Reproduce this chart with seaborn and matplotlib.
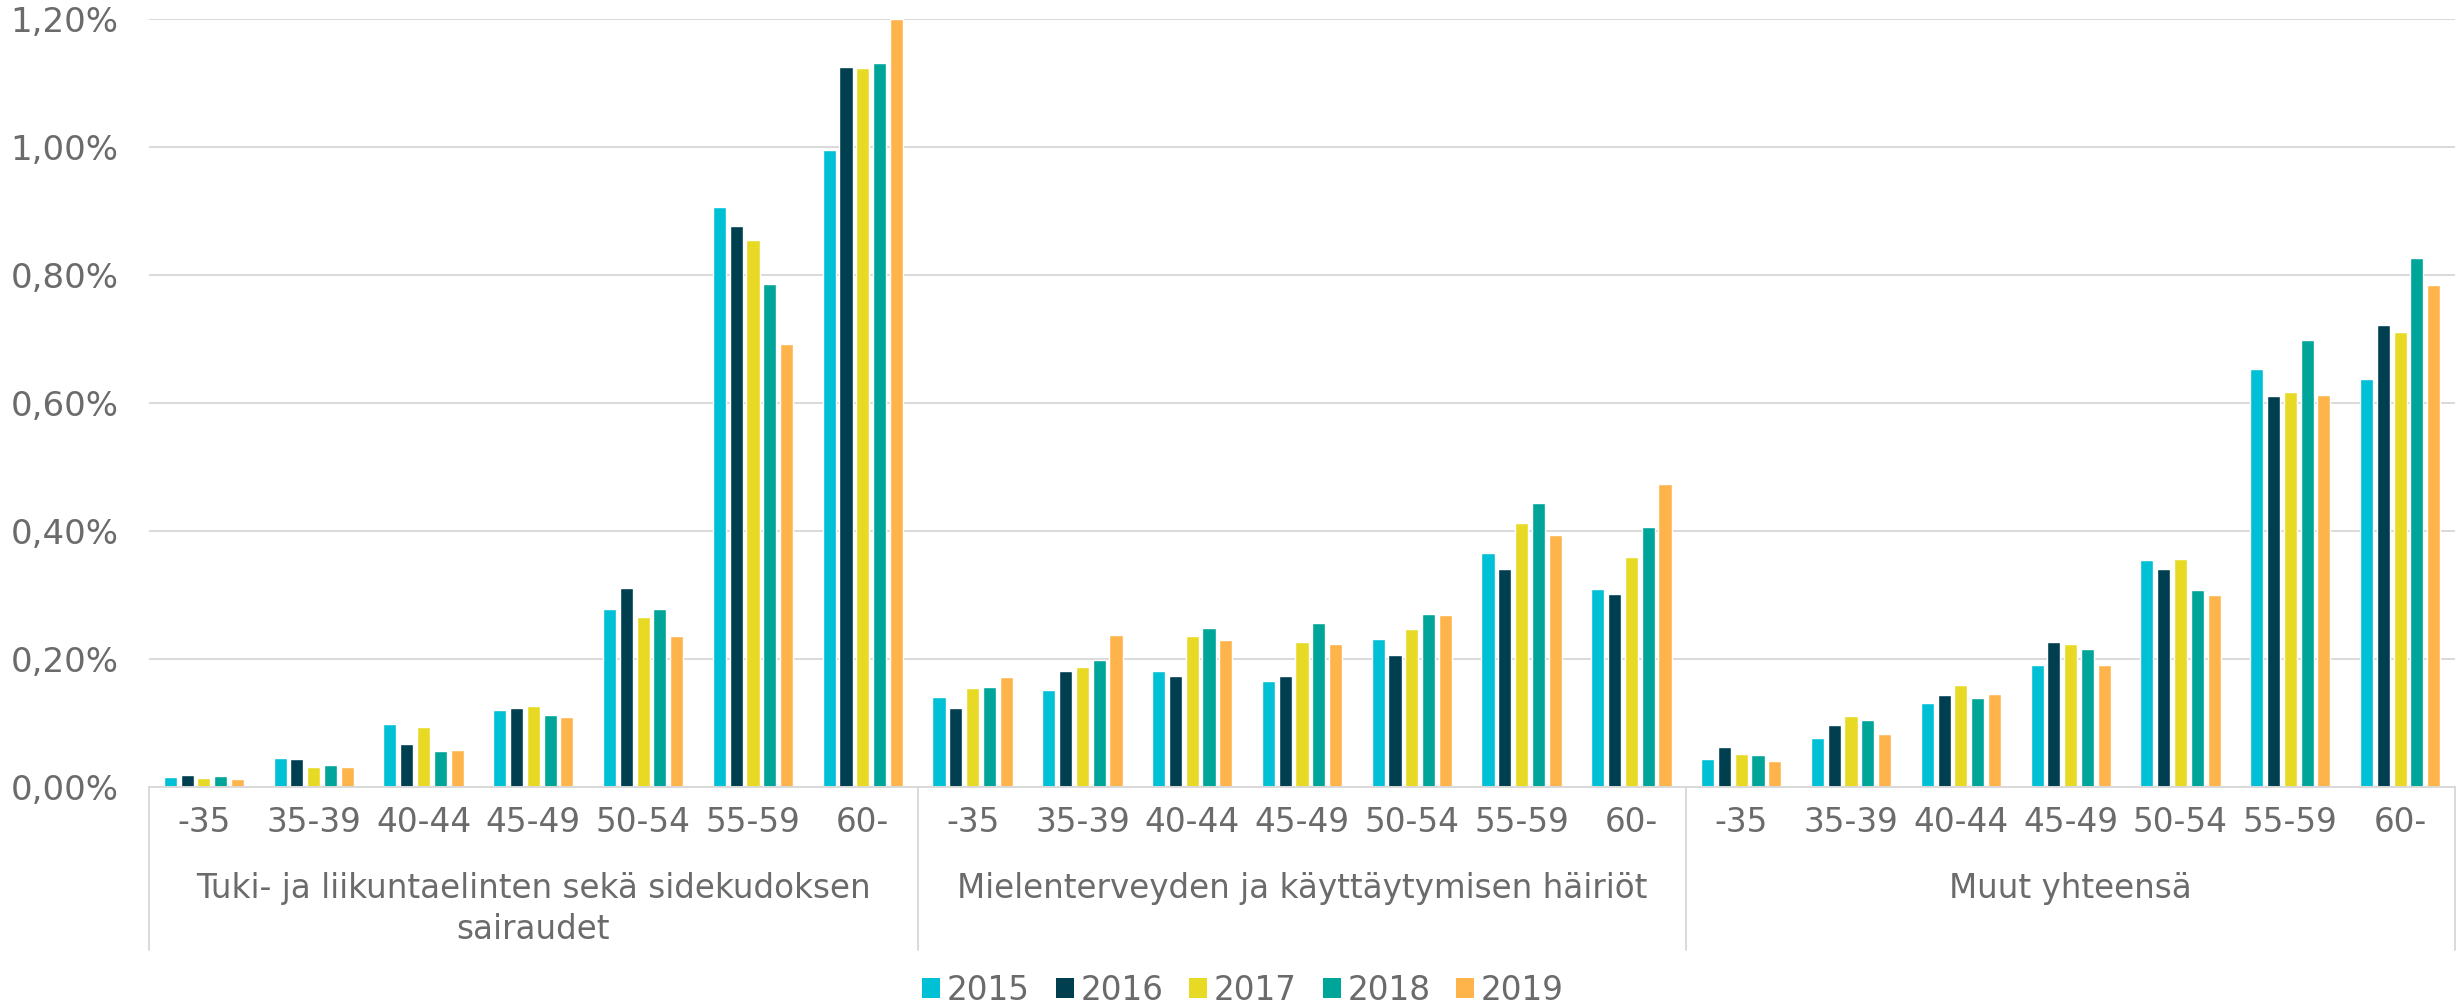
import matplotlib
matplotlib.use("Agg")
import matplotlib.pyplot as plt
import matplotlib.transforms as mtransforms
from matplotlib.ticker import FuncFormatter, MultipleLocator
from matplotlib.patches import Patch
import seaborn as sns
import pandas as pd

groups = ["Tuki- ja liikuntaelinten sekä sidekudoksen\nsairaudet",
          "Mielenterveyden ja käyttäytymisen häiriöt",
          "Muut yhteensä"]
ages = ["-35", "35-39", "40-44", "45-49", "50-54", "55-59", "60-"]
years = ["2015", "2016", "2017", "2018", "2019"]

v2015 = [0.016, 0.046, 0.098, 0.120, 0.278, 0.907, 0.996,
         0.140, 0.151, 0.182, 0.166, 0.232, 0.366, 0.310,
         0.044, 0.077, 0.132, 0.190, 0.354, 0.653, 0.637]
v2016 = [0.019, 0.043, 0.067, 0.123, 0.311, 0.876, 1.125,
         0.124, 0.181, 0.174, 0.174, 0.207, 0.341, 0.301,
         0.062, 0.097, 0.143, 0.226, 0.341, 0.611, 0.722]
v2017 = [0.014, 0.032, 0.094, 0.126, 0.266, 0.855, 1.123,
         0.154, 0.188, 0.236, 0.226, 0.247, 0.413, 0.359,
         0.051, 0.111, 0.160, 0.223, 0.357, 0.617, 0.711]
v2018 = [0.017, 0.035, 0.056, 0.112, 0.278, 0.786, 1.132,
         0.157, 0.198, 0.248, 0.257, 0.271, 0.443, 0.407,
         0.050, 0.104, 0.139, 0.215, 0.308, 0.698, 0.826]
v2019 = [0.012, 0.032, 0.058, 0.109, 0.236, 0.692, 1.200,
         0.172, 0.238, 0.230, 0.223, 0.268, 0.394, 0.474,
         0.040, 0.083, 0.146, 0.191, 0.300, 0.612, 0.784]
series = [v2015, v2016, v2017, v2018, v2019]

colors = ["#00C0D5", "#003F4F", "#E8DA24", "#00A599", "#FFB44B"]

rows = []
for y, vals in zip(years, series):
    for gi, g in enumerate(groups):
        for ai, a in enumerate(ages):
            rows.append({"cat": f"{gi}|{a}", "year": y, "value": vals[gi * len(ages) + ai]})
df = pd.DataFrame(rows)
order = [f"{gi}|{a}" for gi in range(len(groups)) for a in ages]

sns.set_theme(style="white")
plt.rcParams["font.family"] = ["DejaVu Sans"]
TXT = "#6B6B6B"
GRID = "#D9D9D9"
FS = 23.5

W, H = 2459, 1006
fig = plt.figure(figsize=(W / 100, H / 100), dpi=100)
left, right, top, bottom = 149, 2455, 19, 787
ax = fig.add_axes([left / W, 1 - bottom / H, (right - left) / W, (bottom - top) / H])

sns.barplot(data=df, x="cat", y="value", hue="year", order=order, hue_order=years,
            palette=colors, width=0.765, gap=0.22, saturation=1, errorbar=None,
            legend=False, ax=ax)

ax.set_xlim(-0.5, len(order) - 0.5)
ax.set_ylim(0, 1.2)
ax.yaxis.set_major_locator(MultipleLocator(0.2))
ax.yaxis.set_major_formatter(FuncFormatter(lambda v, p: f"{v:.2f}".replace(".", ",") + "%"))
ax.grid(axis="y", color=GRID, linewidth=1.4)
ax.set_axisbelow(True)
for s in ["top", "right", "left"]:
    ax.spines[s].set_visible(False)
ax.spines["bottom"].set_color(GRID)
ax.spines["bottom"].set_linewidth(1.4)
ax.set_xlabel("")
ax.set_ylabel("")

ax.set_xticks(range(len(order)))
ax.set_xticklabels(ages * len(groups))
ax.tick_params(axis="x", length=0, pad=14, labelsize=FS, labelcolor=TXT)
ax.tick_params(axis="y", length=0, pad=22, labelsize=24.5, labelcolor=TXT)

blend = mtransforms.blended_transform_factory(ax.transData, fig.transFigure)
n = len(ages)
for k in range(len(groups) + 1):
    xb = k * n - 0.5
    ax.plot([xb, xb], [1 - bottom / H, 1 - 950 / H], transform=blend, clip_on=False,
            color=GRID, linewidth=1.4)
for gi, g in enumerate(groups):
    xc = gi * n + (n - 1) / 2
    ax.text(xc, 1 - 872 / H, g, transform=blend, ha="center", va="top",
            fontsize=FS, color=TXT, linespacing=1.3)

handles = [Patch(facecolor=c, edgecolor="none", label=y) for c, y in zip(colors, years)]
fig.legend(handles=handles, loc="center", bbox_to_anchor=(1243 / W, 1 - 990 / H),
           ncol=5, frameon=False, fontsize=FS, labelcolor=TXT,
           handlelength=0.55, handleheight=0.55, handletextpad=0.2, columnspacing=0.8)

fig.savefig("out.png", dpi=100)
